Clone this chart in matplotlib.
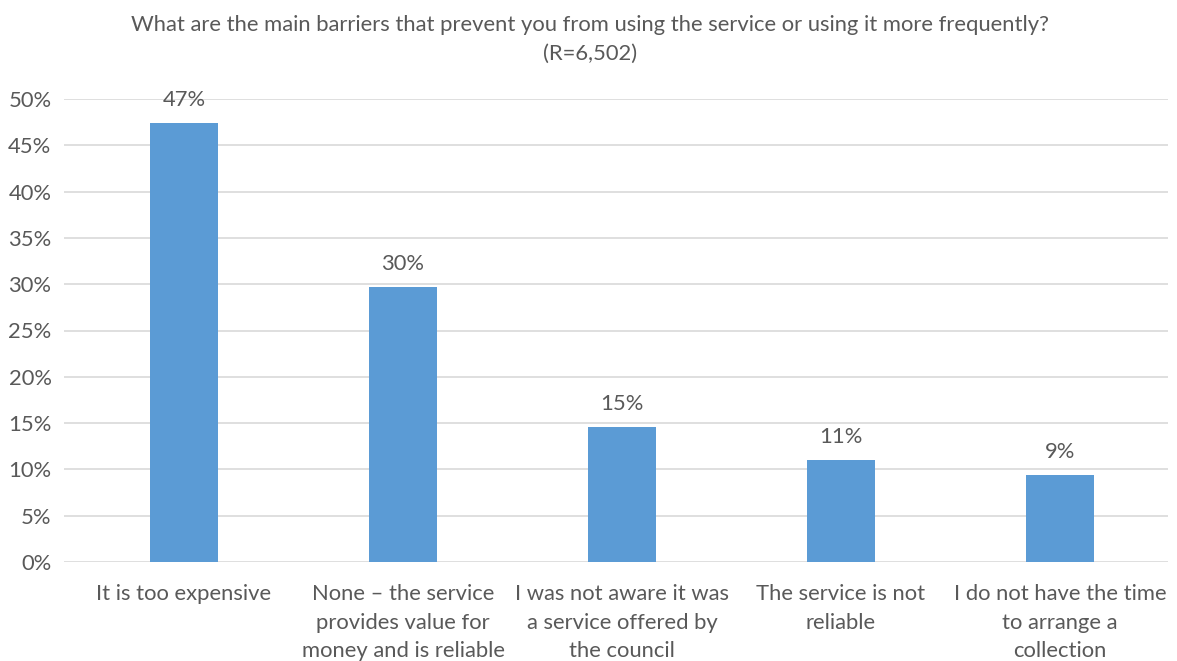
import matplotlib.pyplot as plt
from matplotlib.ticker import MultipleLocator, FuncFormatter

plt.rcParams['font.family'] = ['Lato', 'DejaVu Sans']

categories = [
    'It is too expensive',
    'None \u2013 the service\nprovides value for\nmoney and is reliable',
    'I was not aware it was\na service offered by\nthe council',
    'The service is not\nreliable',
    'I do not have the time\nto arrange a\ncollection',
]
values = [47.4, 29.7, 14.6, 11.0, 9.4]

grey = '#595959'
bar_color = '#5b9bd5'
fs = 15.8

fig = plt.figure(figsize=(11.77, 6.61), dpi=100)
ax = fig.add_axes([64 / 1177, 99 / 661, (1168 - 64) / 1177, 463 / 661])

x = range(len(categories))
bars = ax.bar(x, values, width=0.31, color=bar_color, zorder=3)

for b, v in zip(bars, values):
    ax.text(b.get_x() + b.get_width() / 2, v + 1.4, f'{v:.0f}%',
            ha='center', va='bottom', fontsize=fs, color=grey)

ax.set_xlim(-0.548, 4.493)
ax.set_ylim(0, 50)
ax.yaxis.set_major_locator(MultipleLocator(5))
ax.yaxis.set_major_formatter(FuncFormatter(lambda v, p: f'{v:.0f}%'))
ax.grid(axis='y', color='#d9d9d9', linewidth=1.2, zorder=0)
ax.set_xticks(list(x))
ax.set_xticklabels(categories, fontsize=fs, color=grey, linespacing=1.52)
ax.tick_params(axis='both', length=0, labelsize=fs, colors=grey)
ax.tick_params(axis='y', pad=9)
ax.tick_params(axis='x', pad=16)
for s in ax.spines.values():
    s.set_visible(False)

fig.text(0.501, 0.978, 'What are the main barriers that prevent you from using the service or using it more frequently?\n(R=6,502)',
         ha='center', va='top', fontsize=fs, color=grey, linespacing=1.6)

fig.savefig('out.png', dpi=100)
